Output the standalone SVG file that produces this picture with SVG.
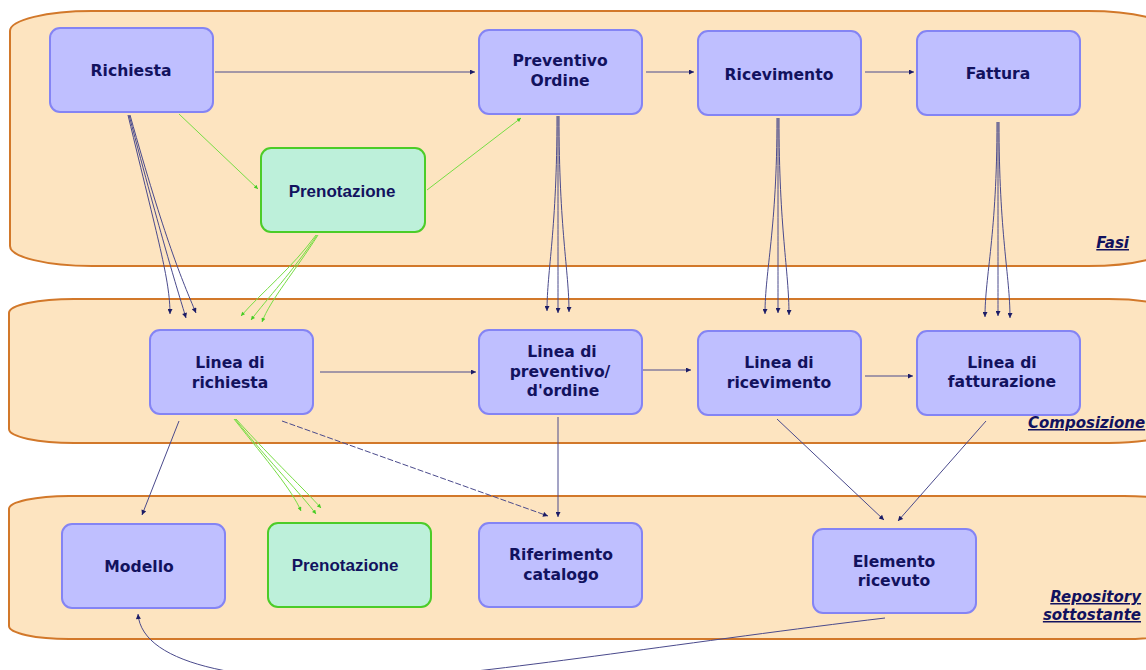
<svg xmlns="http://www.w3.org/2000/svg" width="1146" height="670" viewBox="0 0 1146 670">
<defs>
<marker id="an" viewBox="0 0 10 10" refX="10" refY="5" markerWidth="7" markerHeight="5" markerUnits="userSpaceOnUse" orient="auto"><path d="M0,0 L10,5 L0,10 z" fill="#1c1c66"/></marker>
<marker id="ag" viewBox="0 0 10 10" refX="10" refY="5" markerWidth="5" markerHeight="4" markerUnits="userSpaceOnUse" orient="auto"><path d="M0,0 L10,5 L0,10 z" fill="#44cc22"/></marker>
<style>
.band{fill:#fde4c0;stroke:#d2782a;stroke-width:2}
.n{fill:#bfbfff;stroke:#8484f4;stroke-width:2}
.g{fill:#bdf0da;stroke:#4ccc28;stroke-width:2}
.t{font-family:"DejaVu Sans",Verdana,sans-serif;font-weight:bold;font-size:15.6px;fill:#12125e;text-anchor:middle}
.tp{font-family:"Liberation Sans",Arial,sans-serif;font-weight:bold;font-size:17px;fill:#12125e;text-anchor:middle}
.lab{font-family:"DejaVu Sans",Verdana,sans-serif;font-weight:bold;font-style:italic;font-size:15px;fill:#12125e;text-decoration:underline}
.c{fill:none;stroke:#4a4a8c;stroke-width:1}
.cg{fill:none;stroke:#77dd44;stroke-width:1}
</style>
</defs>
<g id="bands">
<rect class="band" x="10" y="11" width="1160" height="255" rx="82" ry="20"/>
<rect class="band" x="9" y="299" width="1165" height="144" rx="65" ry="14"/>
<rect class="band" x="9" y="496" width="1175" height="143" rx="60" ry="13"/>
<text class="lab" x="1129" y="248" text-anchor="end">Fasi</text>
<text class="lab" x="1028" y="428">Composizione</text>
<text class="lab" x="1141" y="602" text-anchor="end">Repository</text>
<text class="lab" x="1141" y="620" text-anchor="end">sottostante</text>
</g>
<g id="connectors">
<line class="c" x1="215" y1="72" x2="475" y2="72" marker-end="url(#an)"/>
<line class="c" x1="646" y1="72" x2="694" y2="72" marker-end="url(#an)"/>
<line class="c" x1="865" y1="72" x2="914" y2="72" marker-end="url(#an)"/>
<line class="cg" x1="179" y1="114" x2="258" y2="189" marker-end="url(#ag)"/>
<line class="cg" x1="427" y1="190" x2="521" y2="118" marker-end="url(#ag)"/>
<path class="c" d="M128,115 C158,240 170,280 170,314" marker-end="url(#an)"/>
<path class="c" d="M129,115 C162,240 176,285 186,318" marker-end="url(#an)"/>
<path class="c" d="M130,115 C165,240 182,280 196,313" marker-end="url(#an)"/>
<path class="cg" d="M316,235 C292,268 262,292 241,316" marker-end="url(#ag)"/>
<path class="cg" d="M317,235 C294,270 266,300 251,320" marker-end="url(#ag)"/>
<path class="cg" d="M318,235 C296,270 270,300 262,322" marker-end="url(#ag)"/>
<path class="c" d="M557,116 C557,230 547,270 547,311" marker-end="url(#an)"/>
<path class="c" d="M558,116 C558,230 558,270 558,313" marker-end="url(#an)"/>
<path class="c" d="M559,116 C559,230 569,270 569,312" marker-end="url(#an)"/>
<path class="c" d="M777,118 C777,230 765,270 765,314" marker-end="url(#an)"/>
<path class="c" d="M778,118 C778,230 778,270 778,313" marker-end="url(#an)"/>
<path class="c" d="M779,118 C779,230 789,270 789,315" marker-end="url(#an)"/>
<path class="c" d="M997,122 C997,235 985,275 985,317" marker-end="url(#an)"/>
<path class="c" d="M998,122 C998,235 998,275 998,316" marker-end="url(#an)"/>
<path class="c" d="M999,122 C999,235 1010,275 1010,318" marker-end="url(#an)"/>
<line class="c" x1="320" y1="372" x2="476" y2="372" marker-end="url(#an)"/>
<line class="c" x1="643" y1="370" x2="691" y2="370" marker-end="url(#an)"/>
<line class="c" x1="865" y1="376" x2="913" y2="376" marker-end="url(#an)"/>
<line class="c" x1="179" y1="421" x2="142" y2="515" marker-end="url(#an)"/>
<path class="cg" d="M234,419 C268,462 292,490 301,511" marker-end="url(#ag)"/>
<path class="cg" d="M235,419 C272,465 302,495 316,514" marker-end="url(#ag)"/>
<path class="cg" d="M236,419 C275,462 305,490 321,508" marker-end="url(#ag)"/>
<line class="c" x1="282" y1="421" x2="548" y2="516" stroke-dasharray="6 2" marker-end="url(#an)"/>
<line class="c" x1="558" y1="417" x2="558" y2="517" marker-end="url(#an)"/>
<line class="c" x1="777" y1="419" x2="884" y2="520" marker-end="url(#an)"/>
<line class="c" x1="986" y1="421" x2="898" y2="521" marker-end="url(#an)"/>
<path class="c" d="M885,618 C700,640 500,672 400,678 C250,686 142,666 138,614" marker-end="url(#an)"/>
</g>
<g id="richiesta"><rect class="n" x="50" y="28" width="163" height="84" rx="10"/><text class="t" x="131" y="76">Richiesta</text></g>
<g id="prenotazione-fasi"><rect class="g" x="261" y="148" width="164" height="84" rx="10"/><text class="tp" x="342" y="197">Prenotazione</text></g>
<g id="preventivo"><rect class="n" x="479" y="30" width="163" height="84" rx="10"/><text class="t" x="560" y="66">Preventivo</text><text class="t" x="560" y="86">Ordine</text></g>
<g id="ricevimento"><rect class="n" x="698" y="31" width="163" height="84" rx="10"/><text class="t" x="779" y="80">Ricevimento</text></g>
<g id="fattura"><rect class="n" x="917" y="31" width="163" height="84" rx="10"/><text class="t" x="998" y="79">Fattura</text></g>
<g id="linea-richiesta"><rect class="n" x="150" y="330" width="163" height="84" rx="10"/><text class="t" x="230" y="368">Linea di</text><text class="t" x="230" y="388">richiesta</text></g>
<g id="linea-preventivo"><rect class="n" x="479" y="330" width="163" height="84" rx="10"/><text class="t" x="562" y="357">Linea di</text><text class="t" x="560" y="377">preventivo/</text><text class="t" x="563" y="396">d'ordine</text></g>
<g id="linea-ricevimento"><rect class="n" x="698" y="331" width="163" height="84" rx="10"/><text class="t" x="779" y="368">Linea di</text><text class="t" x="779" y="388">ricevimento</text></g>
<g id="linea-fatturazione"><rect class="n" x="917" y="331" width="163" height="84" rx="10"/><text class="t" x="1002" y="368">Linea di</text><text class="t" x="1002" y="387">fatturazione</text></g>
<g id="modello"><rect class="n" x="62" y="524" width="163" height="84" rx="10"/><text class="t" x="139" y="572">Modello</text></g>
<g id="prenotazione-repo"><rect class="g" x="268" y="523" width="163" height="84" rx="10"/><text class="tp" x="345" y="571">Prenotazione</text></g>
<g id="riferimento"><rect class="n" x="479" y="523" width="163" height="84" rx="10"/><text class="t" x="561" y="560">Riferimento</text><text class="t" x="561" y="580">catalogo</text></g>
<g id="elemento"><rect class="n" x="813" y="529" width="163" height="84" rx="10"/><text class="t" x="894" y="567">Elemento</text><text class="t" x="894" y="586">ricevuto</text></g>
</svg>
